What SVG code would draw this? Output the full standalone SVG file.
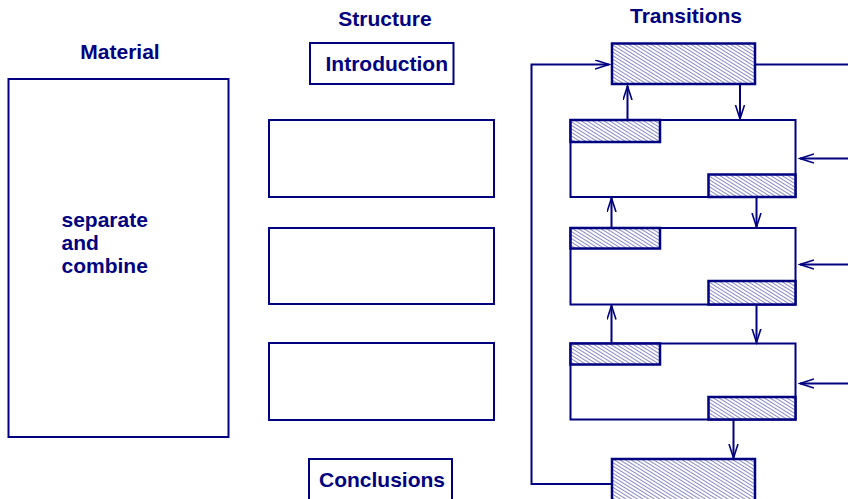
<svg xmlns="http://www.w3.org/2000/svg" width="848" height="499" viewBox="0 0 848 499">
<style>
.t{font-family:"Liberation Sans",Arial,sans-serif;font-weight:bold;font-size:21px;fill:#000080}
.b{fill:#fff;stroke:#000080;stroke-width:2}
.h{fill:url(#hatch);stroke:#000080;stroke-width:2.5}
.c{fill:none;stroke:#000080;stroke-width:2}
</style>
<defs>
<pattern id="hatch" patternUnits="userSpaceOnUse" width="6" height="3" patternTransform="rotate(32)">
<rect width="6" height="3" fill="#fff"/>
<line x1="0" y1="1.5" x2="6" y2="1.5" stroke="#7474bc" stroke-width="0.85"/>
</pattern>
<marker id="a" markerWidth="16" markerHeight="12" refX="14" refY="5" orient="auto" markerUnits="userSpaceOnUse">
<path d="M0,0.5 L14,5 L0,9.5" fill="none" stroke="#000080" stroke-width="1.6"/>
</marker>
</defs>

<text class="t" x="120" y="59" text-anchor="middle">Material</text>
<text class="t" x="385" y="26" text-anchor="middle">Structure</text>
<text class="t" x="686" y="23" text-anchor="middle">Transitions</text>

<g id="material">
<rect class="b" x="8.5" y="79" width="220" height="358"/>
<text class="t" x="61.5" y="226.5">separate</text>
<text class="t" x="61.5" y="249.5">and</text>
<text class="t" x="61.5" y="272.5">combine</text>
</g>

<g id="introduction">
<rect class="b" x="310" y="43" width="143.5" height="41"/>
<text class="t" x="325.5" y="71">Introduction</text>
</g>
<g id="s1"><rect class="b" x="269" y="120" width="225" height="77"/></g>
<g id="s2"><rect class="b" x="269" y="228" width="225" height="76"/></g>
<g id="s3"><rect class="b" x="269" y="343" width="225" height="77"/></g>
<g id="conclusions">
<rect class="b" x="309" y="459" width="143" height="45"/>
<text class="t" x="319" y="487">Conclusions</text>
</g>

<g id="topbox"><rect class="h" x="612" y="43.5" width="143" height="40.5"/></g>

<g id="p1">
<rect class="b" x="570.5" y="120" width="225" height="77"/>
<rect class="h" x="570.5" y="120" width="89.5" height="22"/>
<rect class="h" x="708.5" y="174.5" width="87" height="22.5"/>
</g>
<g id="p2">
<rect class="b" x="570.5" y="228" width="225" height="76.5"/>
<rect class="h" x="570.5" y="228" width="89.5" height="20.5"/>
<rect class="h" x="708.5" y="281" width="87" height="23.5"/>
</g>
<g id="p3">
<rect class="b" x="570.5" y="343.5" width="225" height="76"/>
<rect class="h" x="570.5" y="343.5" width="89.5" height="21"/>
<rect class="h" x="708.5" y="397" width="87" height="22.5"/>
</g>

<g id="bottombox"><rect class="h" x="612" y="459" width="143" height="45"/></g>

<g id="connectors">
<polyline class="c" points="611,484 531.5,484 531.5,64.5 609,64.5" marker-end="url(#a)"/>
<line class="c" x1="755" y1="64.5" x2="848" y2="64.5"/>
<line class="c" x1="627.5" y1="120" x2="627.5" y2="86" marker-end="url(#a)"/>
<line class="c" x1="740" y1="84" x2="740" y2="119" marker-end="url(#a)"/>
<line class="c" x1="611.5" y1="228" x2="611.5" y2="198" marker-end="url(#a)"/>
<line class="c" x1="756.5" y1="197" x2="756.5" y2="227" marker-end="url(#a)"/>
<line class="c" x1="611.5" y1="343.5" x2="611.5" y2="305.5" marker-end="url(#a)"/>
<line class="c" x1="756.5" y1="304.5" x2="756.5" y2="342.5" marker-end="url(#a)"/>
<line class="c" x1="733.5" y1="419.5" x2="733.5" y2="458" marker-end="url(#a)"/>
<line class="c" x1="848" y1="158.5" x2="800" y2="158.5" marker-end="url(#a)"/>
<line class="c" x1="848" y1="264.5" x2="800" y2="264.5" marker-end="url(#a)"/>
<line class="c" x1="848" y1="383.5" x2="800" y2="383.5" marker-end="url(#a)"/>
</g>
</svg>
